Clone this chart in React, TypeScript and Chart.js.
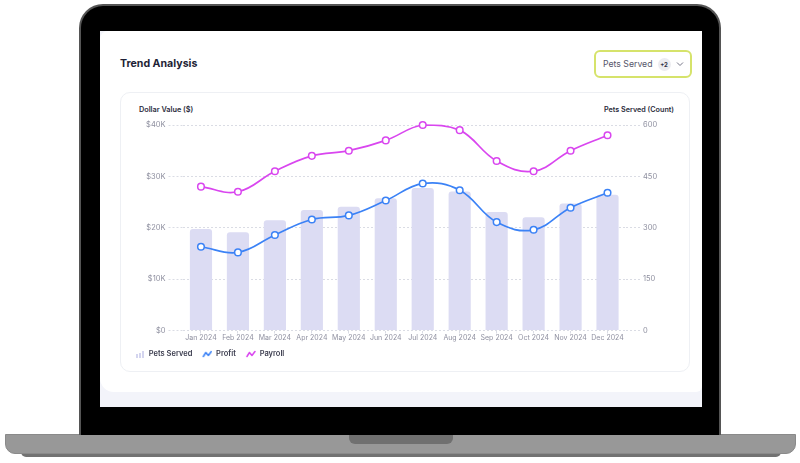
import React, { useEffect, useRef } from "react";
import { Chart, registerables } from "chart.js";

Chart.register(...registerables);

const months = ["Jan 2024", "Feb 2024", "Mar 2024", "Apr 2024", "May 2024", "Jun 2024", "Jul 2024", "Aug 2024", "Sep 2024", "Oct 2024", "Nov 2024", "Dec 2024"];
const petsServed = [296, 287, 322, 352, 361, 386, 416, 406, 346, 331, 371, 396];
const profit = [16300, 15200, 18600, 21600, 22400, 25300, 28600, 27300, 21100, 19600, 23900, 26800];
const payroll = [28000, 27000, 31000, 34000, 35000, 37000, 40000, 39000, 33000, 31000, 35000, 38000];
const dollarTickLabels = ["$0", "$10K", "$20K", "$30K", "$40K"];
const countTickLabels = ["0", "150", "300", "450", "600"];

const FONT = "Inter, 'Noto Sans', sans-serif";
const BAR_COLOR = "#dcdcf3";
const BLUE = "#3b82f6";
const MAGENTA = "#d946ef";
const GRID = "#dadce4";
const TICK = "#8f90a0";

// legend icons: 16px wide canvas, visible glyph in the right 10px (left 6px acts as spacing)
function barIcon(): HTMLCanvasElement {
  const c = document.createElement("canvas");
  c.width = 16;
  c.height = 8;
  const g = c.getContext("2d")!;
  g.fillStyle = "#d4d5ef";
  g.fillRect(7, 4, 2, 4);
  g.fillRect(10, 3, 2, 5);
  g.fillRect(13, 1, 2, 7);
  return c;
}

function waveIcon(color: string): HTMLCanvasElement {
  const c = document.createElement("canvas");
  c.width = 16;
  c.height = 8;
  const g = c.getContext("2d")!;
  g.strokeStyle = color;
  g.lineWidth = 1.5;
  g.lineJoin = "round";
  g.lineCap = "round";
  g.beginPath();
  g.moveTo(7, 6.5);
  g.lineTo(9.5, 2.5);
  g.lineTo(12, 5.5);
  g.lineTo(15, 1.5);
  g.stroke();
  return c;
}

function TrendChart() {
  const ref = useRef<HTMLCanvasElement | null>(null);
  useEffect(() => {
    if (!ref.current) return;
    const icons = [barIcon(), waveIcon(BLUE), waveIcon(MAGENTA)];
    const tickFont = { family: FONT, size: 7.5 };
    const chart = new Chart(ref.current, {
      type: "bar",
      data: {
        labels: months,
        datasets: [
          {
            type: "bar",
            label: "Pets Served",
            data: petsServed,
            yAxisID: "y1",
            backgroundColor: BAR_COLOR,
            borderRadius: 3,
            borderSkipped: "bottom",
            categoryPercentage: 1,
            barPercentage: 0.6,
            order: 3,
          },
          {
            type: "line",
            label: "Profit",
            data: profit,
            yAxisID: "y",
            borderColor: BLUE,
            borderWidth: 1.7,
            tension: 0.4,
            pointRadius: 3.3,
            pointBorderWidth: 1.5,
            pointBackgroundColor: "#ffffff",
            pointBorderColor: BLUE,
            clip: false,
            order: 1,
          } as any,
          {
            type: "line",
            label: "Payroll",
            data: payroll,
            yAxisID: "y",
            borderColor: MAGENTA,
            borderWidth: 1.7,
            tension: 0.4,
            pointRadius: 3.3,
            pointBorderWidth: 1.5,
            pointBackgroundColor: "#ffffff",
            pointBorderColor: MAGENTA,
            clip: false,
            order: 2,
          } as any,
        ],
      },
      options: {
        responsive: false,
        animation: false,
        layout: { padding: { left: 5, right: 24, top: 33, bottom: 4.25 } },
        scales: {
          x: {
            offset: true,
            grid: { display: true, drawOnChartArea: false, drawTicks: true, tickLength: 3, offset: false, color: GRID, tickColor: GRID },
            border: { display: false },
            ticks: { padding: 0, font: { family: FONT, size: 7 }, color: TICK, maxRotation: 0, autoSkip: false },
            afterFit: (s: any) => { s.height = 15.75; },
          },
          y: {
            position: "left",
            min: 0,
            max: 40000,
            grid: { color: GRID, tickColor: GRID, drawTicks: true, tickLength: 14, tickBorderDash: [2, 2] },
            border: { display: false, dash: [2, 2] },
            ticks: {
              stepSize: 10000,
              padding: 3,
              font: tickFont,
              color: TICK,
              callback: (_v: any, i: number) => dollarTickLabels[i],
            },
            afterFit: (s: any) => { s.width = 57.5; },
          },
          y1: {
            position: "right",
            min: 0,
            max: 600,
            grid: { drawOnChartArea: false, color: GRID, tickColor: GRID, drawTicks: true, tickLength: 14, tickBorderDash: [2, 2] },
            border: { display: false },
            ticks: {
              stepSize: 150,
              padding: 3,
              font: tickFont,
              color: TICK,
              callback: (_v: any, i: number) => countTickLabels[i],
            },
            afterFit: (s: any) => { s.width = 40; },
          },
        },
        plugins: {
          tooltip: { enabled: false },
          legend: {
            position: "bottom",
            align: "start",
            labels: {
              usePointStyle: true,
              pointStyleWidth: 16,
              padding: 4,
              color: "#3b3c4e",
              font: { family: FONT, size: 7.5, weight: "600" as any },
              sort: (a: any, b: any) => a.datasetIndex - b.datasetIndex,
              generateLabels: (c: any) => {
                const items = (Chart.defaults.plugins.legend.labels as any).generateLabels(c);
                return items.map((it: any) => ({ ...it, pointStyle: icons[it.datasetIndex] }));
              },
            },
          },
        },
      },
    } as any);
    return () => chart.destroy();
  }, []);
  return <canvas ref={ref} width={570} height={280} style={{ position: "absolute", left: 120, top: 92, width: 570, height: 280 }} />;
}

export default function App() {
  const abs = (s: React.CSSProperties): React.CSSProperties => ({ position: "absolute", boxSizing: "border-box", ...s });
  return (
    <div style={{ position: "fixed", left: 0, top: 0, width: 800, height: 463, background: "#ffffff", overflow: "hidden", fontFamily: FONT }}>
      {/* base bottom strip */}
      <div style={abs({ left: 21, top: 450, width: 760, height: 7, background: "#727272", borderRadius: "0 0 5px 5px" })} />
      {/* base */}
      <div style={abs({ left: 5, top: 434, width: 791, height: 20, background: "#989898", borderRadius: "0 0 10px 10px", border: "1px solid #8a8a8a" })} />
      {/* lid */}
      <div style={abs({ left: 79, top: 4, width: 642, height: 431, background: "#000000", border: "2px solid #555555", borderBottom: "none", borderRadius: "24px 24px 0 0" })} />
      {/* notch */}
      <div style={abs({ left: 349, top: 435, width: 104, height: 9, background: "#707070", borderRadius: "0 0 6px 6px" })} />
      {/* screen */}
      <div style={abs({ left: 100, top: 31, width: 602, height: 376, background: "#f3f4fa" })} />
      <div style={abs({ left: 100, top: 31, width: 602, height: 361, background: "#ffffff", borderRadius: "8px 0 6px 14px" })} />
      {/* title */}
      <div style={abs({ left: 120, top: 56, height: 16, lineHeight: "16px", fontSize: 10.6, fontWeight: 700, color: "#1e1f36", whiteSpace: "nowrap" })}>Trend Analysis</div>
      {/* dropdown */}
      <div style={abs({ left: 594, top: 50, width: 98, height: 28, border: "2px solid #d6e36b", borderRadius: 6, background: "#fff", display: "flex", alignItems: "center", paddingLeft: 7 })}>
        <span style={{ fontSize: 8.7, color: "#55566a", whiteSpace: "nowrap" }}>Pets Served</span>
        <span style={{ marginLeft: 5, width: 13, height: 13, borderRadius: 7, background: "#ececf0", display: "inline-flex", alignItems: "center", justifyContent: "center", fontSize: 6, fontWeight: 700, color: "#333344" }}>+2</span>
        <svg width="8" height="6" style={{ marginLeft: 5 }} viewBox="0 0 8 6">
          <path d="M1 1.5 L4 4.5 L7 1.5" fill="none" stroke="#777788" strokeWidth="1" />
        </svg>
      </div>
      {/* inner card */}
      <div style={abs({ left: 120, top: 92, width: 570, height: 280, border: "1px solid #eef0f4", borderRadius: 10, background: "#ffffff" })} />
      {/* axis titles */}
      <div style={abs({ left: 139, top: 104, height: 12, lineHeight: "12px", fontSize: 7.3, fontWeight: 600, color: "#2b2c3c", whiteSpace: "nowrap" })}>Dollar Value ($)</div>
      <div style={abs({ right: 126, top: 104, height: 12, lineHeight: "12px", fontSize: 7.2, fontWeight: 600, color: "#2b2c3c", whiteSpace: "nowrap" })}>Pets Served (Count)</div>
      <TrendChart />
    </div>
  );
}
